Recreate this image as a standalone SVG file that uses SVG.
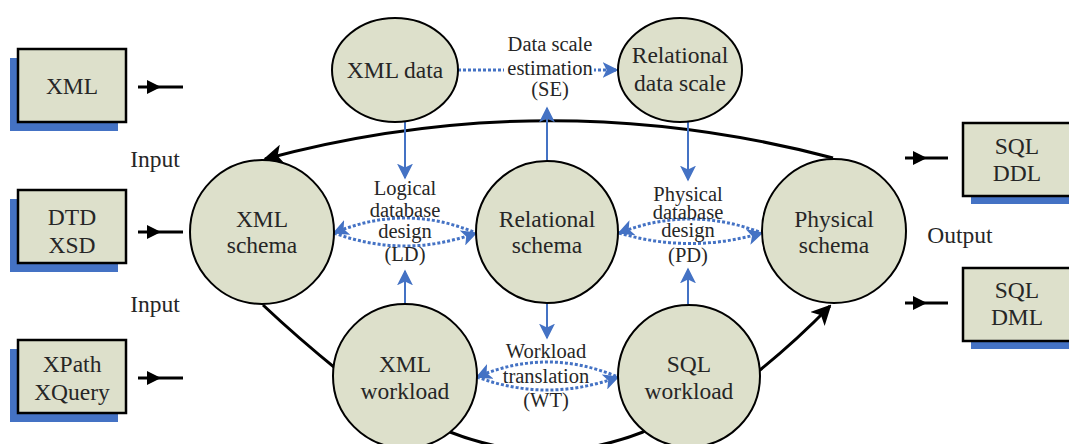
<svg xmlns="http://www.w3.org/2000/svg" width="1069" height="444" viewBox="0 0 1069 444">
<style>
.node{fill:#DDE0CB;stroke:#000;stroke-width:2}
.box{fill:#DDE0CB;stroke:#000;stroke-width:2.5}
.shadow{fill:#4472C4}
.t{font-family:'Liberation Serif','Times New Roman','DejaVu Serif',serif;font-size:23.5px;fill:#262626;text-anchor:middle}
.l{font-family:'Liberation Serif','Times New Roman','DejaVu Serif',serif;font-size:20.5px;fill:#262626;text-anchor:middle}
.blk{fill:none;stroke:#000;stroke-width:3}
.dot{fill:none;stroke:#4472C4;stroke-width:3;stroke-dasharray:3 2}
.sol{fill:none;stroke:#4472C4;stroke-width:2}
</style>
<defs>
<marker id="ab" viewBox="0 0 10 10" refX="9" refY="5" markerUnits="userSpaceOnUse" markerWidth="16" markerHeight="16" orient="auto-start-reverse"><path d="M0,0 L10,5 L0,10 L2.5,5 Z" fill="#4472C4"/></marker>
<marker id="ak" viewBox="0 0 10 10" refX="9" refY="5" markerUnits="userSpaceOnUse" markerWidth="20" markerHeight="20" orient="auto"><path d="M0,0 L10,5 L0,10 L2.5,5 Z" fill="#000"/></marker>
</defs>
<g id="connectors">
<path class="blk" d="M833,158 Q548,83 265,159" marker-end="url(#ak)"/>
<path class="blk" d="M263,305 Q298,338 340,372 L450,432 Q546,470 643,432 L760,370 Q797,340 830,306" marker-end="url(#ak)"/>
<line class="dot" x1="458" y1="70" x2="617" y2="70" marker-end="url(#ab)"/>
<path class="dot" d="M334,233 Q405,203 476,233" marker-start="url(#ab)"/>
<path class="dot" d="M334,233 Q405,259 476,233" marker-end="url(#ab)"/>
<path class="dot" d="M619,233 Q690,205 762,233" marker-start="url(#ab)"/>
<path class="dot" d="M619,233 Q690,254 762,233" marker-end="url(#ab)"/>
<path class="dot" d="M477,377 Q547,347 618,377" marker-start="url(#ab)"/>
<path class="dot" d="M477,377 Q547,403 618,377" marker-end="url(#ab)"/>
<line class="sol" x1="405" y1="122" x2="405" y2="178" marker-end="url(#ab)"/>
<line class="sol" x1="405" y1="304" x2="405" y2="271" marker-end="url(#ab)"/>
<line class="sol" x1="547" y1="160" x2="547" y2="108" marker-end="url(#ab)"/>
<line class="sol" x1="547" y1="304" x2="547" y2="338" marker-end="url(#ab)"/>
<line class="sol" x1="688" y1="122" x2="688" y2="180" marker-end="url(#ab)"/>
<line class="sol" x1="688" y1="304" x2="688" y2="269" marker-end="url(#ab)"/>
<g stroke="#000" stroke-width="3">
<line x1="138" y1="87" x2="183" y2="87"/>
<line x1="138" y1="232" x2="183" y2="232"/>
<line x1="138" y1="378" x2="183" y2="378"/>
<line x1="905" y1="158" x2="948" y2="158"/>
<line x1="905" y1="303" x2="948" y2="303"/>
</g>
<g fill="#000">
<polygon points="147,80 161,87 147,94"/>
<polygon points="147,225 161,232 147,239"/>
<polygon points="147,371 161,378 147,385"/>
<polygon points="913,151 927,158 913,165"/>
<polygon points="913,296 927,303 913,310"/>
</g>
</g>
<g id="label-se">
<rect x="504" y="58" width="90" height="22" fill="#fff"/>
<text class="l" x="550" y="51">Data scale</text>
<text class="l" x="550" y="75">estimation</text>
<text class="l" x="550" y="96">(SE)</text>
</g>
<g id="label-ld">
<text class="l" x="405" y="195">Logical</text>
<text class="l" x="405" y="217">database</text>
<text class="l" x="405" y="238">design</text>
<text class="l" x="405" y="261">(LD)</text>
</g>
<g id="label-pd">
<text class="l" x="688" y="201">Physical</text>
<text class="l" x="688" y="219">database</text>
<text class="l" x="688" y="237">design</text>
<text class="l" x="688" y="262">(PD)</text>
</g>
<g id="label-wt">
<text class="l" x="546" y="358">Workload</text>
<text class="l" x="546" y="383">translation</text>
<text class="l" x="546" y="407">(WT)</text>
</g>
<g id="xml-data"><ellipse class="node" cx="395" cy="70" rx="63" ry="52"/><text class="t" x="395" y="78">XML data</text></g>
<g id="rel-data-scale"><ellipse class="node" cx="680" cy="70" rx="62" ry="52"/><text class="t" x="680" y="63">Relational</text><text class="t" x="680" y="91">data scale</text></g>
<g id="xml-schema"><circle class="node" cx="262" cy="232" r="72"/><text class="t" x="262" y="227">XML</text><text class="t" x="262" y="253">schema</text></g>
<g id="rel-schema"><circle class="node" cx="547" cy="232" r="71"/><text class="t" x="547" y="227">Relational</text><text class="t" x="547" y="253">schema</text></g>
<g id="phys-schema"><circle class="node" cx="834" cy="231" r="72"/><text class="t" x="834" y="227">Physical</text><text class="t" x="834" y="253">schema</text></g>
<g id="xml-workload"><circle class="node" cx="405" cy="376" r="72"/><text class="t" x="405" y="372">XML</text><text class="t" x="405" y="399">workload</text></g>
<g id="sql-workload"><circle class="node" cx="689" cy="376" r="71"/><text class="t" x="689" y="372">SQL</text><text class="t" x="689" y="399">workload</text></g>
<g id="box-xml"><rect class="shadow" x="10" y="58" width="108" height="73"/><rect class="box" x="18" y="49" width="108" height="73"/><text class="t" x="72" y="94">XML</text></g>
<g id="box-dtd"><rect class="shadow" x="10" y="199" width="108" height="73"/><rect class="box" x="18" y="190" width="108" height="73"/><text class="t" x="72" y="225">DTD</text><text class="t" x="72" y="253">XSD</text></g>
<g id="box-xpath"><rect class="shadow" x="10" y="349" width="108" height="73"/><rect class="box" x="18" y="340" width="108" height="73"/><text class="t" x="72" y="372">XPath</text><text class="t" x="72" y="400">XQuery</text></g>
<g id="box-ddl"><rect class="shadow" x="971" y="131" width="108" height="73"/><rect class="box" x="963" y="123" width="108" height="73"/><text class="t" x="1017" y="154">SQL</text><text class="t" x="1017" y="181">DDL</text></g>
<g id="box-dml"><rect class="shadow" x="971" y="276" width="108" height="73"/><rect class="box" x="963" y="268" width="108" height="73"/><text class="t" x="1017" y="298">SQL</text><text class="t" x="1017" y="325">DML</text></g>
<g id="io-labels">
<text class="t" x="155" y="167">Input</text>
<text class="t" x="155" y="312">Input</text>
<text class="t" x="960" y="243">Output</text>
</g>
</svg>
